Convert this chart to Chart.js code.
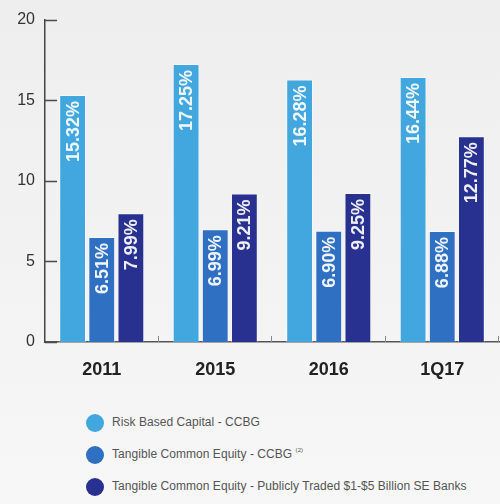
<!DOCTYPE html>
<html>
<head>
<meta charset="utf-8">
<script src="https://cdn.jsdelivr.net/npm/chart.js@4/dist/chart.umd.min.js"></script>
<style>
  html, body { margin: 0; padding: 0; }
  body {
    width: 500px; height: 504px; overflow: hidden; position: relative;
    background: linear-gradient(180deg, #eeeeee 0%, #f3f3f3 60%, #f7f7f7 100%);
    font-family: "Liberation Sans", Arial, sans-serif;
  }
  #wrap { position: absolute; left: 0; top: 0; width: 500px; height: 400px; }
  #legend { position: absolute; left: 86px; top: 414px; }
  .item { position: relative; height: 18px; margin-bottom: 14px; }
  .item .dot { position: absolute; left: 0; top: 0; width: 18px; height: 18px; border-radius: 50%; }
  .item .txt { position: absolute; left: 26px; top: 1px; font-size: 12px; color: #555; white-space: nowrap; letter-spacing: 0.05px; }
  .item sup { font-size: 6px; vertical-align: 6px; }
</style>
</head>
<body>
<div id="wrap"><canvas id="chart"></canvas></div>
<div id="legend"></div>
<script>
// Capital ratios by period
const categories = ['2011', '2015', '2016', '1Q17'];
const riskBasedCapital = [15.32, 17.25, 16.28, 16.44];
const tangibleEquityCCBG = [6.51, 6.99, 6.90, 6.88];
const tangibleEquityPeers = [7.99, 9.21, 9.25, 12.77];
const yTicks = [0, 5, 10, 15, 20];

const seriesLabels = [
  'Risk Based Capital - CCBG',
  'Tangible Common Equity - CCBG',
  'Tangible Common Equity - Publicly Traded $1-$5 Billion SE Banks'
];
const seriesNotes = ['', '(2)', ''];
const seriesColors = ['#42a7de', '#2f70c3', '#28318f'];

// Rotated percentage labels inside the top of each bar
const valueLabels = {
  id: 'valueLabels',
  afterDatasetsDraw(chart) {
    const ctx = chart.ctx;
    ctx.save();
    ctx.font = 'bold 18px "Liberation Sans", Arial, sans-serif';
    ctx.fillStyle = 'rgba(255,255,255,0.92)';
    ctx.textAlign = 'right';
    ctx.textBaseline = 'middle';
    chart.data.datasets.forEach((ds, di) => {
      chart.getDatasetMeta(di).data.forEach((bar, i) => {
        ctx.save();
        ctx.translate(bar.x + 1, bar.y + 6);
        ctx.rotate(-Math.PI / 2);
        ctx.fillText(ds.data[i].toFixed(2) + '%', 0, 0);
        ctx.restore();
      });
    });
    ctx.restore();
  }
};

// Short tick marks pointing into the plot area
const innerTicks = {
  id: 'innerTicks',
  afterDraw(chart) {
    const ctx = chart.ctx;
    const x = chart.scales.x, y = chart.scales.y;
    const area = chart.chartArea;
    ctx.save();
    ctx.strokeStyle = '#4a4a4a';
    ctx.lineWidth = 1.5;
    y.ticks.forEach(t => {
      const py = Math.round(y.getPixelForValue(t.value)) + 0.5;
      ctx.beginPath();
      ctx.moveTo(area.left, py);
      ctx.lineTo(area.left + 12, py);
      ctx.stroke();
    });
    ctx.strokeStyle = '#8a8a8a';
    ctx.lineWidth = 1;
    const half = (x.getPixelForValue(1) - x.getPixelForValue(0)) / 2;
    for (let i = 0; i < categories.length; i++) {
      const px = Math.round(x.getPixelForValue(i) + half) - 0.5;
      ctx.beginPath();
      ctx.moveTo(px, area.bottom);
      ctx.lineTo(px, area.bottom - 6);
      ctx.stroke();
    }
    ctx.restore();
  }
};

const datasets = [riskBasedCapital, tangibleEquityCCBG, tangibleEquityPeers].map((values, k) => ({
  label: seriesLabels[k],
  data: values,
  backgroundColor: seriesColors[k],
  borderColor: 'rgba(255,255,255,0.45)',
  borderWidth: 1,
  borderSkipped: 'bottom',
  barPercentage: 0.92,
  categoryPercentage: 0.77
}));

new Chart(document.getElementById('chart'), {
  type: 'bar',
  data: { labels: categories, datasets },
  options: {
    responsive: true,
    maintainAspectRatio: false,
    animation: false,
    layout: { padding: { top: 15, right: 1, left: 0, bottom: 0 } },
    plugins: { legend: { display: false }, tooltip: { enabled: false } },
    scales: {
      x: {
        grid: { display: false, drawTicks: false },
        border: { display: true, color: '#555', width: 1.5 },
        ticks: {
          padding: 17,
          color: '#222',
          font: { family: '"Liberation Sans", Arial, sans-serif', size: 18, weight: 'bold' }
        },
        afterFit(scale) { scale.height = 58; }
      },
      y: {
        min: 0,
        max: 20,
        grid: { display: false, drawTicks: false },
        border: { display: true, color: '#444', width: 1.5 },
        afterBuildTicks(scale) { scale.ticks = yTicks.map(v => ({ value: v })); },
        ticks: {
          padding: 10,
          color: '#333',
          font: { family: '"Liberation Sans", Arial, sans-serif', size: 16 }
        },
        afterFit(scale) { scale.width = 45; }
      }
    }
  },
  plugins: [valueLabels, innerTicks]
});

// Legend beneath the chart
const legend = document.getElementById('legend');
seriesLabels.forEach((text, k) => {
  const row = document.createElement('div');
  row.className = 'item';
  const dot = document.createElement('span');
  dot.className = 'dot';
  dot.style.background = seriesColors[k];
  const txt = document.createElement('span');
  txt.className = 'txt';
  txt.textContent = text + (seriesNotes[k] ? ' ' : '');
  if (seriesNotes[k]) {
    const sup = document.createElement('sup');
    sup.textContent = seriesNotes[k];
    txt.appendChild(sup);
  }
  row.appendChild(dot);
  row.appendChild(txt);
  legend.appendChild(row);
});
</script>
</body>
</html>
